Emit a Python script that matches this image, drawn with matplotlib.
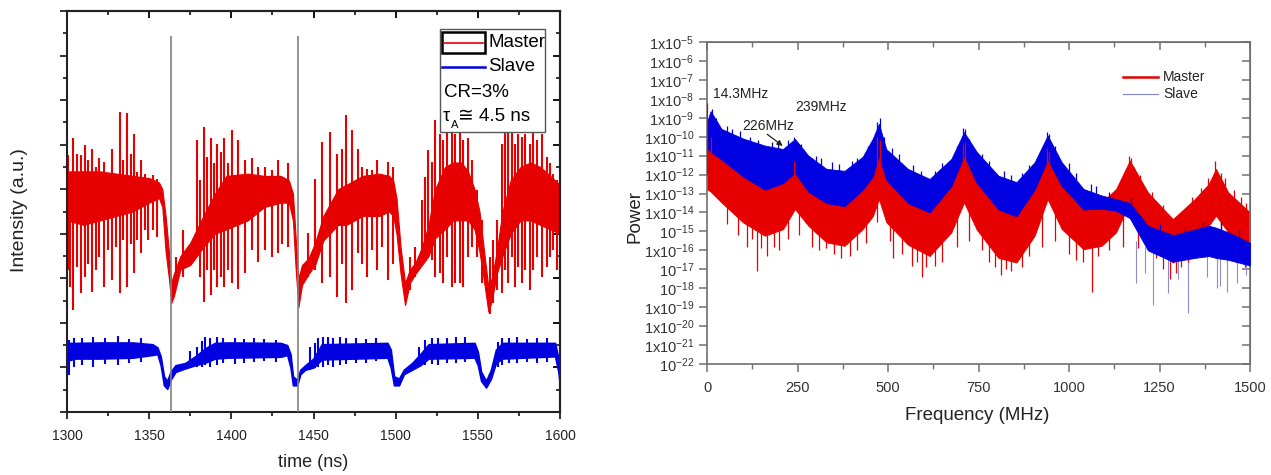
import numpy as np
import matplotlib
matplotlib.use('Agg')
import matplotlib.pyplot as plt
from matplotlib.patches import Rectangle
from matplotlib.ticker import FixedLocator, MultipleLocator, NullFormatter

plt.rcParams['font.family'] = ['Liberation Sans', 'DejaVu Sans']
plt.rcParams['mathtext.fontset'] = 'custom'
plt.rcParams['mathtext.rm'] = 'Liberation Sans'
plt.rcParams['mathtext.it'] = 'Liberation Sans:italic'

RED = '#e60000'
BLUE = '#0000e0'

# ---------------- time traces (left panel), intensity in a.u. ----------------
# dense core of the master trace
master_t = [1300, 1310, 1320, 1330, 1340, 1350, 1356, 1358, 1360, 1362,
            1363.5, 1365, 1369, 1375, 1383, 1390, 1397, 1410, 1420, 1430,
            1435, 1437.5, 1439, 1440.8, 1443, 1447, 1451, 1456, 1465, 1470,
            1480, 1490, 1496, 1498.5, 1500.5, 1503, 1505.7, 1508.7, 1512, 1516,
            1520, 1524, 1530, 1535, 1540, 1544, 1548, 1551, 1553.5, 1556.4,
            1558.5, 1561.5, 1565, 1570, 1576, 1582, 1588, 1594, 1600]
master_lo = [4.3, 4.2, 4.3, 4.4, 4.5, 4.7, 4.8, 4.6, 3.6, 3.0,
             2.45, 2.6, 3.2, 3.3, 3.7, 4.0, 4.1, 4.3, 4.6, 4.7,
             4.7, 4.3, 3.3, 2.35, 2.85, 3.1, 3.3, 3.85, 4.2, 4.2,
             4.4, 4.4, 4.5, 4.4, 4.0, 3.1, 2.4, 2.9, 3.1, 3.3,
             3.5, 3.9, 4.1, 4.3, 4.3, 4.3, 4.1, 3.6, 3.0, 2.25,
             2.5, 3.1, 3.5, 4.0, 4.3, 4.3, 4.2, 4.1, 4.0]
master_hi = [5.4, 5.4, 5.4, 5.35, 5.3, 5.25, 5.15, 5.0, 4.4, 3.6,
             2.9, 3.1, 3.5, 3.8, 4.4, 4.9, 5.3, 5.35, 5.3, 5.3,
             5.2, 4.9, 4.0, 3.0, 3.3, 3.45, 3.8, 4.4, 5.0, 5.1,
             5.3, 5.35, 5.3, 5.2, 4.8, 3.7, 2.9, 3.2, 3.35, 3.7,
             4.2, 5.0, 5.5, 5.6, 5.6, 5.4, 5.0, 4.5, 3.7, 2.8,
             3.0, 3.6, 4.5, 5.2, 5.5, 5.6, 5.5, 5.3, 5.1]

# single oscillation strokes of the master trace
stroke_t = [1300.5, 1301.8, 1303.9, 1305.9, 1308.3, 1311.0, 1313.0, 1315.2, 1317.6, 1319.7,
            1322.7, 1324.7, 1327.6, 1329.8, 1332.3, 1334.3, 1336.7, 1338.8, 1340.8, 1342.8,
            1344.8, 1347.5, 1349.5, 1352.1, 1354.6, 1366.3, 1370.4, 1373.8, 1378.9, 1380.9,
            1383.6, 1385.4, 1387.5, 1389.7, 1391.5, 1393.7, 1395.7, 1398.2, 1400.2, 1404.3,
            1408.3, 1412.4, 1416.4, 1420.5, 1424.6, 1428.6, 1430.7, 1434.7, 1446.9, 1450.9,
            1455.4, 1460.1, 1464.1, 1467.2, 1469.6, 1473.3, 1476.9, 1479.7, 1482.4, 1485.4,
            1488.5, 1491.5, 1495.6, 1498.6, 1508.7, 1511.8, 1515.9, 1517.9, 1519.9, 1521.9,
            1524.0, 1527.0, 1529.0, 1531.1, 1534.1, 1536.1, 1539.2, 1541.2, 1544.2, 1546.3,
            1549.7, 1552.4, 1557.4, 1559.5, 1561.5, 1564.6, 1566.6, 1568.6, 1570.6, 1572.7,
            1574.7, 1576.7, 1578.7, 1581.8, 1583.8, 1585.8, 1588.9, 1591.9, 1593.9, 1596.0,
            1598.0]
stroke_hi = [5.76, 5.39, 6.14, 5.80, 5.76, 5.99, 5.65, 5.91, 5.50, 5.69,
             5.61, 5.28, 5.91, 5.35, 6.73, 5.65, 6.71, 5.80, 6.25, 5.39,
             5.65, 5.35, 5.20, 5.31, 5.24, 3.48, 4.08, 3.71, 6.10, 5.20,
             6.40, 5.72, 6.14, 5.58, 6.02, 5.84, 6.14, 5.58, 6.32, 6.10,
             5.65, 5.69, 5.50, 5.50, 5.43, 5.65, 5.28, 5.58, 4.01, 5.24,
             6.06, 6.28, 5.80, 5.91, 6.66, 6.32, 5.91, 5.50, 5.46, 5.43,
             5.65, 5.28, 5.61, 5.50, 3.48, 3.71, 4.75, 5.28, 5.87, 5.61,
             6.55, 6.25, 6.10, 6.36, 6.32, 6.25, 6.32, 6.10, 6.14, 5.65,
             4.98, 4.30, 3.48, 3.86, 4.30, 6.02, 6.40, 6.47, 6.32, 6.02,
             6.25, 6.17, 6.25, 6.02, 6.28, 6.10, 6.25, 5.72, 5.58, 5.35,
             5.20]
stroke_lo = [3.18, 2.81, 2.29, 3.26, 2.66, 3.03, 3.33, 2.70, 3.18, 3.48,
             2.81, 3.63, 2.96, 3.71, 2.66, 3.86, 2.81, 3.78, 3.11, 3.86,
             3.56, 4.08, 3.86, 4.08, 3.93, 3.03, 3.03, 3.26, 3.71, 3.03,
             2.47, 3.18, 2.62, 3.18, 2.81, 3.03, 2.81, 3.18, 2.89, 2.77,
             3.11, 3.63, 3.37, 3.63, 3.48, 3.56, 3.78, 3.71, 3.03, 3.18,
             2.89, 3.03, 2.59, 3.33, 2.44, 2.74, 3.56, 3.33, 3.03, 3.63,
             3.18, 3.71, 2.96, 3.33, 2.74, 3.03, 3.48, 3.56, 3.63, 3.41,
             3.03, 3.11, 2.89, 3.48, 2.81, 2.89, 2.89, 2.81, 3.48, 3.71,
             3.48, 2.89, 2.21, 2.44, 2.74, 2.66, 3.18, 2.89, 3.48, 2.81,
             3.26, 2.89, 3.18, 2.74, 3.18, 3.48, 3.03, 3.26, 3.48, 3.63,
             3.18]

# slave trace core
slave_t = [1300, 1305, 1320, 1340, 1352, 1355, 1357, 1359, 1361, 1363,
           1366, 1372, 1378, 1385, 1390, 1398, 1430, 1434, 1436, 1437.5,
           1440, 1442, 1445, 1450, 1455, 1495, 1497, 1499, 1502, 1505,
           1510, 1515, 1520, 1548, 1550, 1552, 1555, 1558, 1561, 1565,
           1597, 1599, 1600]
slave_lo = [1.15, 1.2, 1.2, 1.22, 1.28, 1.3, 1.05, 0.6, 0.52, 0.72,
            0.9, 0.98, 1.05, 1.12, 1.2, 1.22, 1.24, 1.28, 1.0, 0.6,
            0.6, 0.85, 0.95, 1.0, 1.18, 1.22, 1.0, 0.6, 0.6, 0.85,
            0.95, 1.05, 1.2, 1.22, 1.05, 0.7, 0.55, 0.75, 1.1, 1.2,
            1.25, 0.9, 0.6]
slave_hi = [1.55, 1.55, 1.56, 1.56, 1.52, 1.45, 1.25, 0.8, 0.7, 0.9,
            1.05, 1.1, 1.25, 1.45, 1.55, 1.56, 1.55, 1.5, 1.3, 0.8,
            0.72, 0.95, 1.05, 1.2, 1.52, 1.55, 1.4, 0.8, 0.75, 0.95,
            1.1, 1.3, 1.52, 1.55, 1.35, 0.9, 0.7, 0.95, 1.4, 1.55,
            1.55, 1.2, 0.8]
slave_stroke_t = [1301.0, 1304, 1309, 1316, 1323, 1331, 1338, 1345, 1375, 1379,
                  1382, 1384, 1387, 1391, 1395, 1402, 1408, 1414, 1420, 1427,
                  1448, 1451, 1453, 1456, 1459, 1462, 1466, 1470, 1476, 1482,
                  1488, 1514, 1518, 1522, 1526, 1531, 1537, 1542, 1562, 1565,
                  1569, 1574, 1580, 1586, 1592]
slave_stroke_hi = [1.62, 1.65, 1.66, 1.68, 1.66, 1.70, 1.64, 1.66, 1.38, 1.46,
                   1.60, 1.68, 1.66, 1.68, 1.65, 1.66, 1.64, 1.66, 1.64, 1.62,
                   1.45, 1.55, 1.65, 1.69, 1.68, 1.66, 1.68, 1.65, 1.66, 1.64,
                   1.66, 1.45, 1.62, 1.66, 1.65, 1.66, 1.68, 1.69, 1.58, 1.66,
                   1.65, 1.68, 1.64, 1.66, 1.65]
slave_stroke_lo = [0.83, 1.0, 1.05, 1.02, 1.08, 1.05, 1.1, 1.12, 0.98, 1.0,
                   1.02, 1.05, 1.0, 1.05, 1.1, 1.08, 1.1, 1.12, 1.15, 1.12,
                   0.95, 0.98, 1.0, 1.0, 1.05, 1.02, 1.05, 1.08, 1.1, 1.1,
                   1.15, 1.0, 1.05, 1.08, 1.05, 1.1, 1.1, 1.12, 1.0, 1.05,
                   1.1, 1.1, 1.12, 1.1, 1.12]
marker_t = [1363.3, 1440.7]
marker_top = 8.43

# ---------------- power spectra (right panel), log10 of power ----------------
freq = [0, 10, 40, 100, 160, 210, 243, 280, 330, 380,
        430, 458, 475, 495, 555, 615, 675, 710, 745, 805,
        855, 905, 941, 980, 1040, 1090, 1130, 1168, 1218, 1287,
        1347, 1386, 1406, 1440, 1500]
slave_psd_hi = [-9.23, -8.65, -9.59, -10.1, -10.47, -10.65, -10.12, -11.0, -11.7, -11.8,
                -11.06, -10.1, -9.32, -10.65, -11.7, -12.23, -11.17, -9.76, -10.8, -12.06,
                -12.4, -11.35, -9.94, -11.35, -12.76, -13.1, -13.3, -13.5, -14.7, -15.2,
                -14.9, -14.7, -14.8, -15.05, -15.6]
slave_psd_lo = [-10.6, -10.8, -11.2, -12.1, -12.8, -12.45, -11.9, -12.9, -13.5, -13.67,
                -12.8, -12.1, -11.0, -12.26, -13.5, -14.0, -12.6, -11.0, -12.43, -13.84,
                -14.2, -12.8, -11.2, -12.6, -13.84, -13.8, -13.9, -14.3, -16.0, -16.6,
                -16.4, -16.3, -16.4, -16.5, -16.8]
master_psd_hi = [-10.4, -10.6, -11.0, -11.9, -12.6, -12.25, -11.7, -12.7, -13.3, -13.47,
                 -12.6, -11.9, -10.8, -12.06, -13.3, -13.8, -12.4, -10.8, -12.23, -13.64,
                 -14.0, -12.6, -11.0, -12.4, -13.64, -13.47, -12.76, -11.26, -12.94, -14.35,
                 -13.3, -12.5, -11.7, -12.94, -14.0]
master_psd_lo = [-12.76, -12.9, -13.47, -14.53, -15.23, -14.88, -13.82, -14.7, -15.58, -15.76,
                 -14.88, -14.2, -13.3, -14.5, -15.7, -16.3, -15.05, -13.47, -14.9, -16.4,
                 -16.64, -15.23, -13.3, -14.88, -15.94, -15.76, -15.05, -13.47, -15.4, -16.64,
                 -15.76, -14.7, -14.17, -15.05, -16.1]

# deep dips of the master spectrum
master_dip_f = [55, 85, 110, 125, 139, 150, 165, 185, 200, 225,
                255, 290, 310, 330, 352, 370, 395, 415, 440, 470,
                505, 515, 540, 565, 580, 594, 605, 630, 650, 690,
                725, 760, 780, 795, 811, 825, 840, 870, 890, 925,
                960, 1000, 1020, 1040, 1063, 1080, 1110, 1150, 1190, 1240,
                1260, 1279, 1295, 1310, 1330, 1360, 1420, 1460, 1485]
master_dip_lo = [-14.6, -15.2, -15.8, -15.4, -17.1, -15.9, -16.3, -15.8, -16.0, -15.4,
                 -15.2, -15.8, -16.0, -15.9, -16.2, -16.4, -16.3, -16.0, -15.6, -14.5,
                 -15.5, -16.4, -16.2, -16.8, -16.6, -17.4, -16.9, -16.8, -16.6, -15.8,
                 -15.5, -16.0, -16.6, -16.9, -17.3, -17.0, -17.1, -16.9, -16.3, -15.8,
                 -15.5, -16.2, -16.5, -16.6, -18.2, -16.3, -16.0, -15.8, -15.9, -16.4,
                 -17.0, -17.5, -17.2, -16.9, -16.6, -16.3, -16.0, -16.6, -16.9]
master_dip_hi = [-12.0, -12.5, -13.0, -13.2, -13.5, -13.5, -13.8, -13.5, -13.5, -13.0,
                 -13.0, -13.5, -13.8, -14.0, -14.0, -14.2, -14.2, -14.0, -13.5, -12.0,
                 -13.0, -13.5, -14.0, -14.2, -14.3, -14.5, -14.5, -14.5, -14.2, -13.5,
                 -12.5, -13.5, -14.0, -14.3, -14.5, -14.5, -14.6, -14.5, -14.0, -13.5,
                 -13.0, -13.8, -14.0, -14.2, -14.5, -14.2, -14.0, -13.5, -13.5, -14.0,
                 -14.5, -14.8, -14.8, -14.5, -14.5, -14.0, -13.8, -14.2, -14.5]
# narrow tips on top of the master spectrum
master_tip_f = [0.5, 10, 240, 470, 478, 706, 712, 938, 945, 1150,
                1165, 1172, 1180, 1195, 1230, 1260, 1320, 1340, 1365, 1385,
                1403, 1420, 1430, 1455, 1475, 1490]
master_tip_top = [-8.2, -10.0, -11.3, -10.0, -10.2, -10.4, -10.3, -10.6, -10.8, -12.3,
                  -11.0, -11.1, -11.6, -12.0, -12.9, -13.6, -13.8, -13.2, -12.7, -12.2,
                  -11.3, -11.9, -12.2, -12.8, -13.2, -13.5]
master_tip_base = [-12.0, -11.5, -12.5, -11.5, -11.5, -11.5, -11.5, -12.0, -12.0, -13.0,
                   -12.0, -12.0, -12.4, -12.8, -13.5, -14.2, -14.5, -14.0, -13.4, -13.0,
                   -12.3, -12.6, -13.0, -13.5, -13.9, -14.2]
# narrow tips on top of the slave spectrum
slave_tip_f = [14, 25, 55, 70, 90, 120, 140, 180, 195, 225,
               240, 260, 300, 315, 345, 365, 400, 415, 445, 470,
               477, 490, 510, 530, 570, 590, 630, 650, 690, 706,
               712, 725, 760, 780, 820, 840, 870, 890, 920, 938,
               945, 960, 1000, 1020, 1060, 1075, 1110, 1170, 1200, 1250,
               1320, 1370, 1420, 1470]
slave_tip_top = [-8.55, -9.0, -9.45, -9.6, -9.7, -10.0, -10.15, -10.3, -10.35, -10.2,
                 -10.0, -10.4, -11.0, -11.1, -11.35, -11.45, -11.3, -11.1, -10.5, -9.2,
                 -9.0, -10.0, -10.6, -10.9, -11.5, -11.8, -11.8, -11.4, -10.5, -9.55,
                 -9.6, -10.1, -10.9, -11.3, -11.8, -12.0, -11.9, -11.5, -10.8, -9.75,
                 -9.85, -10.5, -11.4, -11.9, -12.5, -12.6, -12.9, -13.2, -14.2, -14.6,
                 -14.8, -14.5, -14.5, -14.9]
slave_tip_base = [-9.6, -9.8, -10.2, -10.3, -10.5, -10.7, -10.9, -11.0, -11.0, -11.0,
                  -11.0, -11.2, -11.7, -11.8, -12.0, -12.1, -12.0, -11.8, -11.3, -10.5,
                  -10.5, -11.0, -11.3, -11.6, -12.2, -12.4, -12.5, -12.2, -11.3, -10.8,
                  -10.8, -11.0, -11.6, -12.0, -12.6, -12.7, -12.6, -12.2, -11.5, -11.0,
                  -11.0, -11.4, -12.1, -12.6, -13.2, -13.3, -13.5, -14.0, -14.9, -15.3,
                  -15.5, -15.2, -15.2, -15.6]
slave_dip_f = [1185, 1210, 1233, 1274, 1300, 1329, 1380, 1409, 1417, 1436, 1464, 1490]
slave_dip_lo = [-17.7, -17.2, -18.9, -18.25, -17.5, -19.3, -17.4, -18.0, -17.9, -18.2, -17.7, -17.3]
slave_dip_hi = [-15.5, -15.8, -16.0, -16.0, -16.2, -16.2, -16.0, -16.0, -16.0, -16.2, -16.2, -16.4]

psd_ticks = [-5, -6, -7, -8, -9, -10, -11, -12, -13, -14, -15, -16, -17, -18, -19, -20, -21, -22]
psd_labels = ['1x10$^{-5}$', '1x10$^{-6}$', '1x10$^{-7}$', '1x10$^{-8}$', '1x10$^{-9}$',
              '1x10$^{-10}$', '1x10$^{-11}$', '1x10$^{-12}$', '1x10$^{-13}$', '1x10$^{-14}$',
              '10$^{-15}$', '1x10$^{-16}$', '10$^{-17}$', '10$^{-18}$', '1x10$^{-19}$',
              '1x10$^{-20}$', '1x10$^{-21}$', '10$^{-22}$']


def P(L):
    return np.power(10.0, np.asarray(L, dtype=float))


fig = plt.figure(figsize=(12.71, 4.75), dpi=100)

# ---------------- left panel ----------------
ax1 = fig.add_axes([67 / 1271, 63 / 475, 493 / 1271, 401 / 475])
ax1.fill_between(master_t, master_lo, master_hi, color=RED, lw=0.8, zorder=2)
ax1.vlines(stroke_t, stroke_lo, stroke_hi, color=RED, lw=1.5, zorder=2)
ax1.fill_between(slave_t, slave_lo, slave_hi, color=BLUE, lw=1.2, zorder=2)
ax1.vlines(slave_stroke_t, slave_stroke_lo, slave_stroke_hi, color=BLUE, lw=1.5, zorder=2)
ax1.vlines(marker_t, 0, marker_top, color='#808080', lw=1.2, zorder=4)

ax1.set_xlim(1300, 1600)
ax1.set_ylim(0, 9)
ax1.xaxis.set_major_locator(MultipleLocator(50))
ax1.xaxis.set_minor_locator(MultipleLocator(25))
ax1.yaxis.set_major_locator(MultipleLocator(1))
ax1.yaxis.set_minor_locator(MultipleLocator(0.5))
ax1.yaxis.set_major_formatter(NullFormatter())
ax1.tick_params(which='major', direction='out', length=5, width=1.3, labelsize=10, pad=7,
                colors='#222222')
ax1.tick_params(which='minor', direction='out', length=3, width=1.1)
for s in ax1.spines.values():
    s.set_linewidth(1.5)
    s.set_color('#222222')
top1 = ax1.secondary_xaxis('top')
top1.xaxis.set_major_locator(MultipleLocator(50))
top1.xaxis.set_minor_locator(MultipleLocator(25))
top1.tick_params(which='major', direction='in', length=5, width=1.3, labeltop=False)
top1.tick_params(which='minor', direction='in', length=3, width=1.1)
top1.spines['top'].set_linewidth(1.5)
right1 = ax1.secondary_yaxis('right')
right1.yaxis.set_major_locator(MultipleLocator(1))
right1.yaxis.set_minor_locator(MultipleLocator(0.5))
right1.tick_params(which='major', direction='in', length=5, width=1.3, labelright=False)
right1.tick_params(which='minor', direction='in', length=3, width=1.1)
right1.spines['right'].set_linewidth(1.5)

fig.text(20 / 1271, 0.558, 'Intensity (a.u.)', rotation=90, ha='center', va='center',
         fontsize=14, color='#222222')
fig.text(313 / 1271, 0.027, 'time (ns)', ha='center', va='center', fontsize=13, color='#222222')

# legend box of the left panel
tr = ax1.transAxes
ax1.add_patch(Rectangle((0.757, 0.698), 0.213, 0.257, transform=tr, facecolor='white',
                        edgecolor='#555555', lw=1.0, zorder=10))
ax1.add_patch(Rectangle((0.760, 0.8945), 0.088, 0.0535, transform=tr, facecolor='none',
                        edgecolor='black', lw=1.8, zorder=11))
ax1.plot([0.764, 0.844], [0.921, 0.921], transform=tr, color=RED, lw=1.2, zorder=11)
ax1.plot([0.760, 0.848], [0.861, 0.861], transform=tr, color=BLUE, lw=1.8, zorder=11)
ax1.text(0.854, 0.921, 'Master', transform=tr, fontsize=13.5, va='center', zorder=12)
ax1.text(0.854, 0.861, 'Slave', transform=tr, fontsize=13.5, va='center', zorder=12)
ax1.text(0.765, 0.797, 'CR=3%', transform=tr, fontsize=13.5, va='center', zorder=12)
ax1.text(0.763, 0.738, 'τ', transform=tr, fontsize=13, va='center', zorder=12)
ax1.text(0.779, 0.716, 'A', transform=tr, fontsize=8, va='center', zorder=12)
ax1.text(0.793, 0.738, '≅ 4.5 ns', transform=tr, fontsize=13.5, va='center', zorder=12)

# ---------------- right panel ----------------
GR = '#707070'
ax2 = fig.add_axes([707 / 1271, 111 / 475, 543 / 1271, 322 / 475])
ax2.set_yscale('log')
ax2.fill_between(freq, P(master_psd_lo), P(master_psd_hi), color=RED, lw=0.6, zorder=2)
ax2.vlines(master_dip_f, P(master_dip_lo), P(master_dip_hi), color=RED, lw=0.9, zorder=2)
ax2.vlines(slave_dip_f, P(slave_dip_lo), P(slave_dip_hi), color='#8c8cc8', lw=0.8, zorder=1.5)
ax2.fill_between(freq, P(slave_psd_lo), P(slave_psd_hi), color=BLUE, lw=0.6, zorder=3)
ax2.vlines(slave_tip_f, P(slave_tip_base), P(slave_tip_top), color=BLUE, lw=0.9, zorder=3)
ax2.vlines(master_tip_f, P(master_tip_base), P(master_tip_top), color=RED, lw=0.9, zorder=4)

ax2.set_xlim(0, 1500)
ax2.set_ylim(1e-22, 1e-5)
ax2.xaxis.set_major_locator(MultipleLocator(250))
ax2.xaxis.set_minor_locator(MultipleLocator(125))
ax2.yaxis.set_major_locator(FixedLocator(list(P(psd_ticks))))
ax2.yaxis.set_minor_locator(FixedLocator([]))
ax2.set_yticklabels(psd_labels)
ax2.tick_params(axis='x', which='major', direction='out', length=6, width=1.1, colors=GR,
                labelcolor='#333333', labelsize=10.5, pad=6)
ax2.tick_params(axis='x', which='minor', direction='out', length=3.5, width=1.0, colors=GR)
ax2.tick_params(axis='y', which='major', direction='out', length=6, width=1.1, colors=GR,
                labelcolor='#333333', labelsize=10.5, pad=3)
for s in ax2.spines.values():
    s.set_linewidth(1.2)
    s.set_color(GR)
top2 = ax2.secondary_xaxis('top')
top2.xaxis.set_major_locator(MultipleLocator(250))
top2.xaxis.set_minor_locator(MultipleLocator(125))
top2.tick_params(which='major', direction='in', length=6, width=1.1, colors=GR, labeltop=False)
top2.tick_params(which='minor', direction='in', length=3.5, width=1.0, colors=GR)
top2.spines['top'].set_color(GR)
right2 = ax2.secondary_yaxis('right')
right2.yaxis.set_major_locator(FixedLocator(list(P(psd_ticks))))
right2.yaxis.set_minor_locator(FixedLocator([]))
right2.tick_params(which='major', direction='in', length=6, width=1.1, colors=GR, labelright=False)
right2.spines['right'].set_color(GR)

fig.text(635 / 1271, 0.545, 'Power', rotation=90, ha='center', va='center', fontsize=13.5,
         color='#222222')
fig.text(977 / 1271, 0.126, 'Frequency (MHz)', ha='center', va='center', fontsize=13.5,
         color='#222222')

tr2 = ax2.transAxes
ax2.text(0.0105, 0.8376, '14.3MHz', transform=tr2, fontsize=10, va='center', color='#222222')
ax2.text(0.163, 0.799, '239MHz', transform=tr2, fontsize=10, va='center', color='#222222')
ax2.text(0.0657, 0.740, '226MHz', transform=tr2, fontsize=10, va='center', color='#222222')
ax2.annotate('', xy=(0.1436, 0.672), xytext=(0.1068, 0.7186), xycoords=tr2, textcoords=tr2,
             arrowprops=dict(arrowstyle='-|>', color='#222222', lw=0.9, mutation_scale=8))
ax2.plot([0.7655, 0.8311], [0.890, 0.890], transform=tr2, color=RED, lw=1.8, zorder=6)
ax2.plot([0.7655, 0.8311], [0.8385, 0.8385], transform=tr2, color='#8080e0', lw=0.8, zorder=6)
ax2.text(0.8398, 0.890, 'Master', transform=tr2, fontsize=10, va='center', color='#222222')
ax2.text(0.8398, 0.8385, 'Slave', transform=tr2, fontsize=10, va='center', color='#222222')

fig.savefig('out.png', dpi=100)
